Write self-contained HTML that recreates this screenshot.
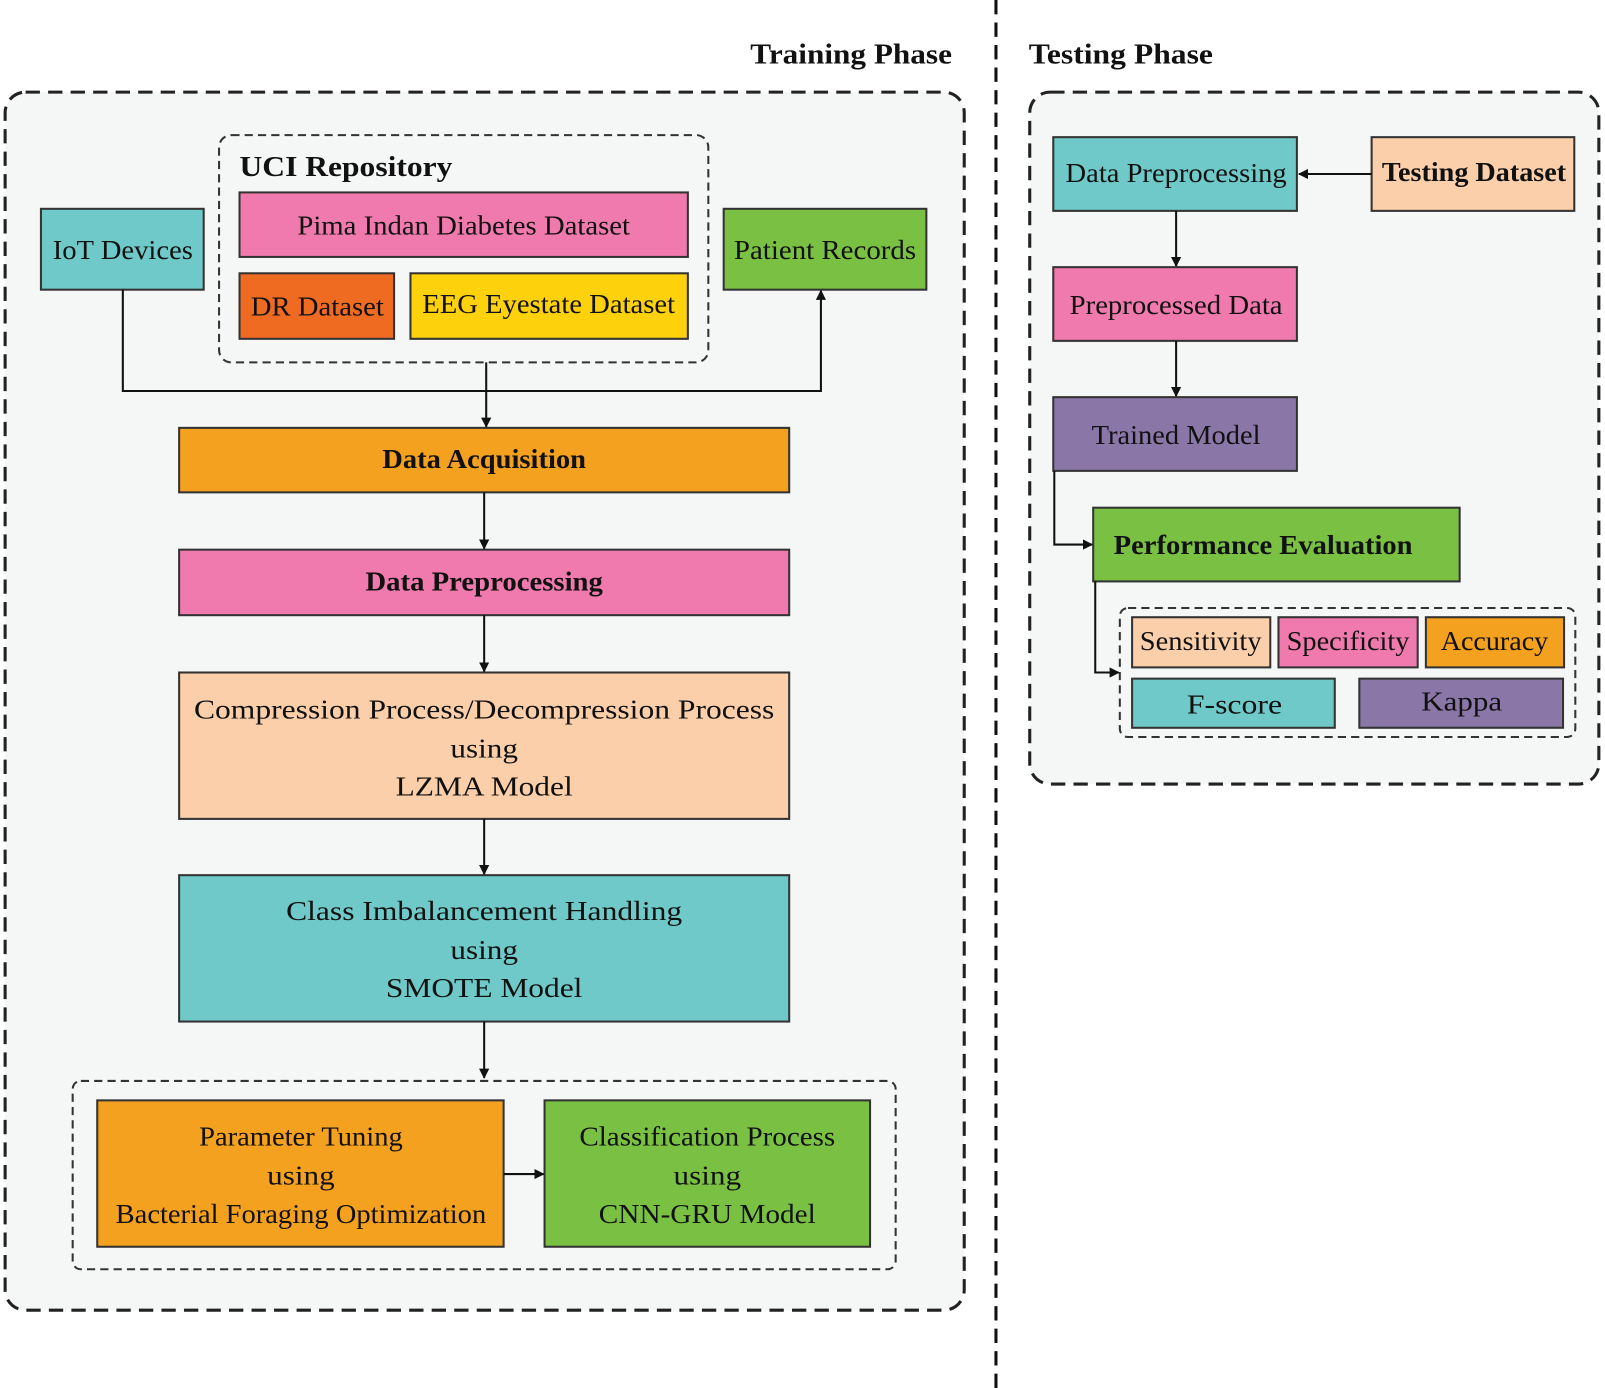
<!DOCTYPE html>
<html><head><meta charset="utf-8"><style>
html,body{margin:0;padding:0;background:#fff;}
svg{display:block;}
text{font-family:"Liberation Serif",serif;fill:#111;}
</style></head><body>
<svg width="1605" height="1388" viewBox="0 0 1568 1356" preserveAspectRatio="none" xmlns="http://www.w3.org/2000/svg">
<defs><marker id="a" markerWidth="10" markerHeight="10" refX="9" refY="5" orient="auto" markerUnits="userSpaceOnUse"><path d="M0,0 L10,5 L0,10 z" fill="#111"/></marker></defs>
<rect width="1568" height="1356" fill="#fff"/>
<line x1="973" y1="0" x2="973" y2="1356" stroke="#111" stroke-width="3" stroke-dasharray="14,8"/>
<g lengthAdjust="spacingAndGlyphs">
<text x="930" y="62" font-size="28" font-weight="bold" text-anchor="end" textLength="197" lengthAdjust="spacingAndGlyphs">Training Phase</text>
<text x="1005" y="62" font-size="28" font-weight="bold" textLength="180" lengthAdjust="spacingAndGlyphs">Testing Phase</text>
</g>
<rect x="5" y="90" width="937" height="1190" rx="20" fill="#f5f6f6" stroke="#222" stroke-width="3" stroke-dasharray="14,8"/>
<rect x="1006" y="90" width="556" height="676" rx="20" fill="#f5f6f6" stroke="#222" stroke-width="3" stroke-dasharray="14,8"/>
<g stroke="#333" stroke-width="2">
<rect x="214" y="132" width="478" height="222" rx="12" fill="none" stroke-dasharray="8,5"/>
<rect x="234" y="188" width="438" height="63" fill="#f07aae"/>
<rect x="234" y="267" width="151" height="64" fill="#f06b22"/>
<rect x="401" y="267" width="271" height="64" fill="#fdd10c"/>
<rect x="40" y="204" width="159" height="79" fill="#6fc9c8"/>
<rect x="707" y="204" width="198" height="79" fill="#7ac143"/>
<rect x="175" y="418" width="596" height="63" fill="#f4a11f"/>
<rect x="175" y="537" width="596" height="64" fill="#f07aae"/>
<rect x="175" y="657" width="596" height="143" fill="#fbcfaa"/>
<rect x="175" y="855" width="596" height="143" fill="#6fc9c8"/>
<rect x="71" y="1056" width="804" height="184" rx="8" fill="none" stroke-dasharray="8,5"/>
<rect x="95" y="1075" width="397" height="143" fill="#f4a11f"/>
<rect x="532" y="1075" width="318" height="143" fill="#7ac143"/>
<rect x="1029" y="134" width="238" height="72" fill="#6fc9c8"/>
<rect x="1340" y="134" width="198" height="72" fill="#fbcfaa"/>
<rect x="1029" y="261" width="238" height="72" fill="#f07aae"/>
<rect x="1029" y="388" width="238" height="72" fill="#8a77a8"/>
<rect x="1068" y="496" width="358" height="72" fill="#7ac143"/>
<rect x="1094" y="594" width="445" height="126" rx="8" fill="none" stroke-dasharray="8,5"/>
<rect x="1106" y="603" width="135" height="49" fill="#fbcfaa"/>
<rect x="1249" y="603" width="136" height="49" fill="#f07aae"/>
<rect x="1393" y="603" width="135" height="49" fill="#f4a11f"/>
<rect x="1106" y="663" width="198" height="48" fill="#6fc9c8"/>
<rect x="1328" y="663" width="199" height="48" fill="#8a77a8"/>
</g>
<g stroke="#111" stroke-width="2" fill="none">
<polyline points="120,283 120,382 802,382 802,284" marker-end="url(#a)"/>
<line x1="475" y1="354" x2="475" y2="417" marker-end="url(#a)"/>
<line x1="473" y1="481" x2="473" y2="536" marker-end="url(#a)"/>
<line x1="473" y1="601" x2="473" y2="656" marker-end="url(#a)"/>
<line x1="473" y1="800" x2="473" y2="854" marker-end="url(#a)"/>
<line x1="473" y1="998" x2="473" y2="1053" marker-end="url(#a)"/>
<line x1="492" y1="1147" x2="531" y2="1147" marker-end="url(#a)"/>
<line x1="1340" y1="170" x2="1269" y2="170" marker-end="url(#a)"/>
<line x1="1149" y1="206" x2="1149" y2="260" marker-end="url(#a)"/>
<line x1="1149" y1="333" x2="1149" y2="387" marker-end="url(#a)"/>
<polyline points="1030,460 1030,532 1067,532" marker-end="url(#a)"/>
<polyline points="1070,568 1070,657 1093,657" marker-end="url(#a)"/>
</g>
<g font-size="27" text-anchor="middle">
<text x="338" y="172" font-weight="bold" font-size="28" textLength="208" lengthAdjust="spacingAndGlyphs">UCI Repository</text>
<text x="453" y="229" textLength="325" lengthAdjust="spacingAndGlyphs">Pima Indan Diabetes Dataset</text>
<text x="310" y="308" textLength="130" lengthAdjust="spacingAndGlyphs">DR Dataset</text>
<text x="536" y="306" textLength="247" lengthAdjust="spacingAndGlyphs">EEG Eyestate Dataset</text>
<text x="120" y="253" textLength="137" lengthAdjust="spacingAndGlyphs">IoT Devices</text>
<text x="806" y="253" textLength="178" lengthAdjust="spacingAndGlyphs">Patient Records</text>
<text x="473" y="457" font-weight="bold" textLength="199" lengthAdjust="spacingAndGlyphs">Data Acquisition</text>
<text x="473" y="577" font-weight="bold" textLength="232" lengthAdjust="spacingAndGlyphs">Data Preprocessing</text>
<text x="473" y="702" textLength="567" lengthAdjust="spacingAndGlyphs">Compression Process/Decompression Process</text>
<text x="473" y="740" textLength="66" lengthAdjust="spacingAndGlyphs">using</text>
<text x="473" y="777" textLength="173" lengthAdjust="spacingAndGlyphs">LZMA Model</text>
<text x="473" y="899" textLength="387" lengthAdjust="spacingAndGlyphs">Class Imbalancement Handling</text>
<text x="473" y="937" textLength="66" lengthAdjust="spacingAndGlyphs">using</text>
<text x="473" y="974" textLength="192" lengthAdjust="spacingAndGlyphs">SMOTE Model</text>
<text x="294" y="1119" textLength="199" lengthAdjust="spacingAndGlyphs">Parameter Tuning</text>
<text x="294" y="1157" textLength="66" lengthAdjust="spacingAndGlyphs">using</text>
<text x="294" y="1195" textLength="362" lengthAdjust="spacingAndGlyphs">Bacterial Foraging Optimization</text>
<text x="691" y="1119" textLength="250" lengthAdjust="spacingAndGlyphs">Classification Process</text>
<text x="691" y="1157" textLength="66" lengthAdjust="spacingAndGlyphs">using</text>
<text x="691" y="1195" textLength="212" lengthAdjust="spacingAndGlyphs">CNN-GRU Model</text>
<text x="1149" y="178" textLength="216" lengthAdjust="spacingAndGlyphs">Data Preprocessing</text>
<text x="1440" y="177" font-weight="bold" textLength="180" lengthAdjust="spacingAndGlyphs">Testing Dataset</text>
<text x="1149" y="307" textLength="208" lengthAdjust="spacingAndGlyphs">Preprocessed Data</text>
<text x="1149" y="434" textLength="165" lengthAdjust="spacingAndGlyphs">Trained Model</text>
<text x="1234" y="541" font-weight="bold" textLength="292" lengthAdjust="spacingAndGlyphs">Performance Evaluation</text>
<text x="1173" y="635" textLength="119" lengthAdjust="spacingAndGlyphs">Sensitivity</text>
<text x="1317" y="635" textLength="120" lengthAdjust="spacingAndGlyphs">Specificity</text>
<text x="1460" y="635" textLength="105" lengthAdjust="spacingAndGlyphs">Accuracy</text>
<text x="1206" y="697" textLength="93" lengthAdjust="spacingAndGlyphs">F-score</text>
<text x="1428" y="694" textLength="79" lengthAdjust="spacingAndGlyphs">Kappa</text>
</g>
</svg>
</body></html>
